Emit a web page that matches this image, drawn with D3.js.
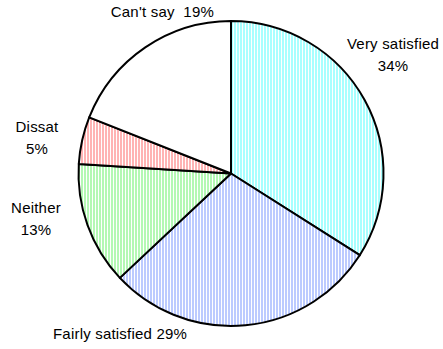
<!DOCTYPE html>
<html><head><meta charset="utf-8">
<script src="https://cdn.jsdelivr.net/npm/d3@7"></script>
<style>body{margin:0;background:#fff}svg{display:block}text{white-space:pre}</style>
</head><body>
<svg id="c" width="443" height="349"></svg>
<script>
const categories = ["Very satisfied", "Fairly satisfied", "Neither", "Dissat", "Can't say"];
const values = [34, 29, 13, 5, 19];
const labelLines = [["Very satisfied", "34%"], ["Fairly satisfied 29%"], ["Neither", "13%"], ["Dissat", "5%"], ["Can't say  19%"]];
const colors = ["#a8ffff", "#bccbff", "#b4f8b4", "#ffb4b4", "#ffffff"];

const W = 443, H = 349, cx = 231, cy = 173.5, R = 152.5;
const labelPos = [
  {x: 393, y: 49, anchor: "middle"},
  {x: 53, y: 339, anchor: "start"},
  {x: 36, y: 213, anchor: "middle"},
  {x: 37, y: 132, anchor: "middle"},
  {x: 214, y: 17, anchor: "end"}
];

const svg = d3.select("#c");
const defs = svg.append("defs");
colors.forEach((c, i) => {
  const p = defs.append("pattern").attr("id", "p" + i).attr("patternUnits", "userSpaceOnUse")
    .attr("width", 3).attr("height", 3);
  p.append("rect").attr("width", 3).attr("height", 3).attr("fill", "#fff");
  p.append("rect").attr("width", 2).attr("height", 3).attr("fill", c);
});

const pie = d3.pie().sort(null).value(d => d)(values);
const arc = d3.arc().innerRadius(0).outerRadius(R);
const g = svg.append("g").attr("transform", `translate(${cx},${cy})`);
g.selectAll("path").data(pie).join("path")
  .attr("d", arc)
  .attr("fill", (d, i) => "url(#p" + i + ")")
  .attr("stroke", "#000").attr("stroke-width", 2).attr("stroke-linejoin", "round");

const lab = svg.append("g").attr("font-family", "'Liberation Sans', Arial, sans-serif")
  .attr("font-size", 15).attr("letter-spacing", 0.2).attr("fill", "#000");
labelLines.forEach((lines, i) => {
  const t = lab.append("text").attr("text-anchor", labelPos[i].anchor);
  lines.forEach((s, j) => {
    t.append("tspan").attr("x", labelPos[i].x).attr("y", labelPos[i].y + j * 21.5).text(s);
  });
});
</script>
</body></html>
